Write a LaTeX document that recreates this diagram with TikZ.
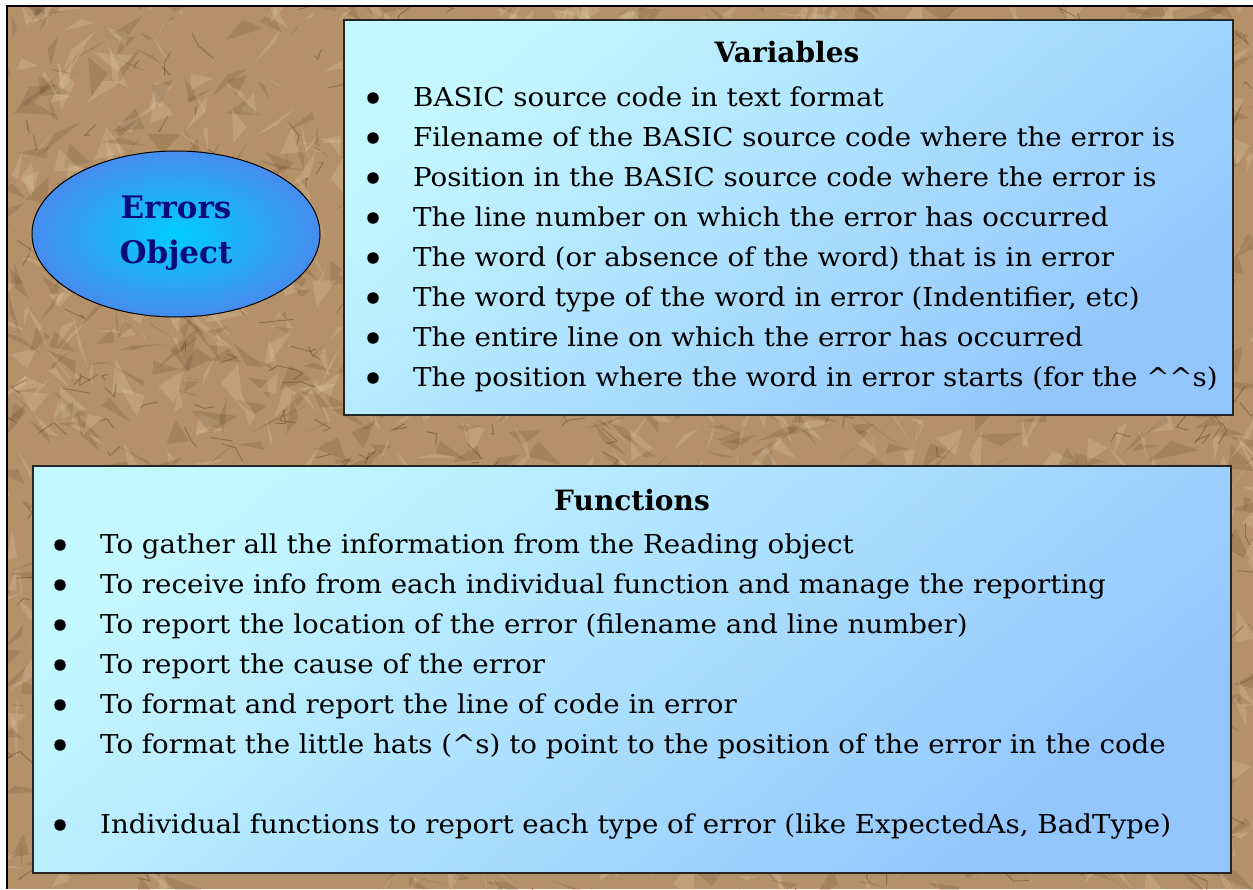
\documentclass[tikz,border=0pt]{standalone}
\usepackage{fontspec}
\setmainfont{DejaVu Serif}
\newfontfamily\itemfont{DejaVu Serif}[FakeStretch=1.065]
\usetikzlibrary{shapes.geometric}
\definecolor{paper}{RGB}{180,145,105}
\definecolor{paperdark}{RGB}{90,62,38}
\definecolor{paperlight}{RGB}{236,214,182}
\definecolor{boxtop}{RGB}{196,248,255}
\definecolor{boxbot}{RGB}{146,198,252}
\definecolor{ellin}{RGB}{0,206,255}
\definecolor{ellout}{RGB}{70,140,238}
\definecolor{navy}{RGB}{8,12,120}
\tikzset{
  panel/.style={draw=black!85, line width=1.5pt, shading=axis, top color=boxtop, bottom color=boxbot, shading angle=40},
  bulletdot/.style={circle, fill=black, inner sep=0pt, minimum size=11.5pt},
  itemtext/.style={anchor=base west, inner sep=0pt, font=\itemfont\fontsize{26}{30}\selectfont},
  titletext/.style={anchor=base, inner sep=0pt, font=\fontsize{28}{32}\selectfont\bfseries},
  objtext/.style={anchor=base, inner sep=0pt, text=navy, font=\fontsize{31}{36}\selectfont\bfseries},
  darkpatch/.style={fill=paperdark, opacity=0.18},
  lightpatch/.style={fill=paperlight, opacity=0.22},
  crease/.style={paperdark, opacity=0.4, line width=1pt, line cap=round}
}
\begin{document}
\begin{tikzpicture}[x=1pt,y=-1pt]
\useasboundingbox (0,0) rectangle (1253,889);
% background paper
\fill[white] (0,0) rectangle (1253,889);
\fill[paper] (7,6) rectangle (1253,889);
\begin{scope}
\clip (7,6) rectangle (1253,889);
\pgfmathsetseed{4321}
\foreach \i in {1,...,1100}{
  \pgfmathsetmacro\xa{rnd*1253}
  \pgfmathsetmacro\ya{rnd*889}
  \pgfmathsetmacro\dxa{rand*34}
  \pgfmathsetmacro\dya{rand*26}
  \pgfmathsetmacro\dxb{rand*30}
  \pgfmathsetmacro\dyb{rand*24}
  \fill[darkpatch] (\xa,\ya) -- ++(\dxa,\dya) -- ++(\dxb,\dyb) -- cycle;
  \fill[lightpatch] (\xa+6,\ya-5) -- ++(\dyb,\dxa) -- ++(\dya,\dxb) -- cycle;
}
\foreach \i in {1,...,500}{
  \pgfmathsetmacro\xa{rnd*1253}
  \pgfmathsetmacro\ya{rnd*889}
  \pgfmathsetmacro\dxa{rand*20}
  \pgfmathsetmacro\dya{rand*14}
  \pgfmathsetmacro\dxb{rand*16}
  \pgfmathsetmacro\dyb{rand*12}
  \draw[crease] (\xa,\ya) -- ++(\dxa,\dya) -- ++(\dxb,\dyb);
}
\end{scope}
\draw[black, line width=2pt] (7,889) -- (7,6) -- (1253,6);

% ellipse
\node[ellipse, draw=black, line width=1pt, minimum width=288pt, minimum height=166pt,
      inner color=ellin, outer color=ellout] (obj) at (176,234) {};
\node[objtext] (objA) at (176,218) {Errors};
\node[objtext] (objB) at (176,263) {Object};

% Variables panel
\node[panel, anchor=north west, minimum width=889pt, minimum height=395pt, inner sep=0pt] (vars) at (343,19) {};
\node[titletext] (varsT) at (787,62) {Variables};
\foreach \t [count=\k from 0] in {
  {BASIC source code in text format},
  {Filename of the BASIC source code where the error is},
  {Position in the BASIC source code where the error is},
  {The line number on which the error has occurred},
  {The word (or absence of the word) that is in error},
  {The word type of the word in error (Indentifier, etc)},
  {The entire line on which the error has occurred},
  {The position where the word in error starts (for the \^{}\^{}s)}}{
  \node[bulletdot] (vb\k) at (373,98+40*\k) {};
  \node[itemtext] (vt\k) at (413,106+40*\k) {\t};
}

% Functions panel
\node[panel, anchor=north west, minimum width=1198pt, minimum height=407pt, inner sep=0pt] (funcs) at (32,465) {};
\node[titletext] (funcsT) at (632,510) {Functions};
\foreach \t/\yy [count=\k from 0] in {
  {To gather all the information from the Reading object}/545,
  {To receive info from each individual function and manage the reporting}/585,
  {To report the location of the error (filename and line number)}/625,
  {To report the cause of the error}/665,
  {To format and report the line of code in error}/705,
  {To format the little hats (\^{}s) to point to the position of the error in the code}/745,
  {Individual functions to report each type of error (like ExpectedAs, BadType)}/825}{
  \node[bulletdot] (fb\k) at (60,\yy) {};
  \node[itemtext] (ft\k) at (100,\yy+8) {\t};
}
\end{tikzpicture}
\end{document}
